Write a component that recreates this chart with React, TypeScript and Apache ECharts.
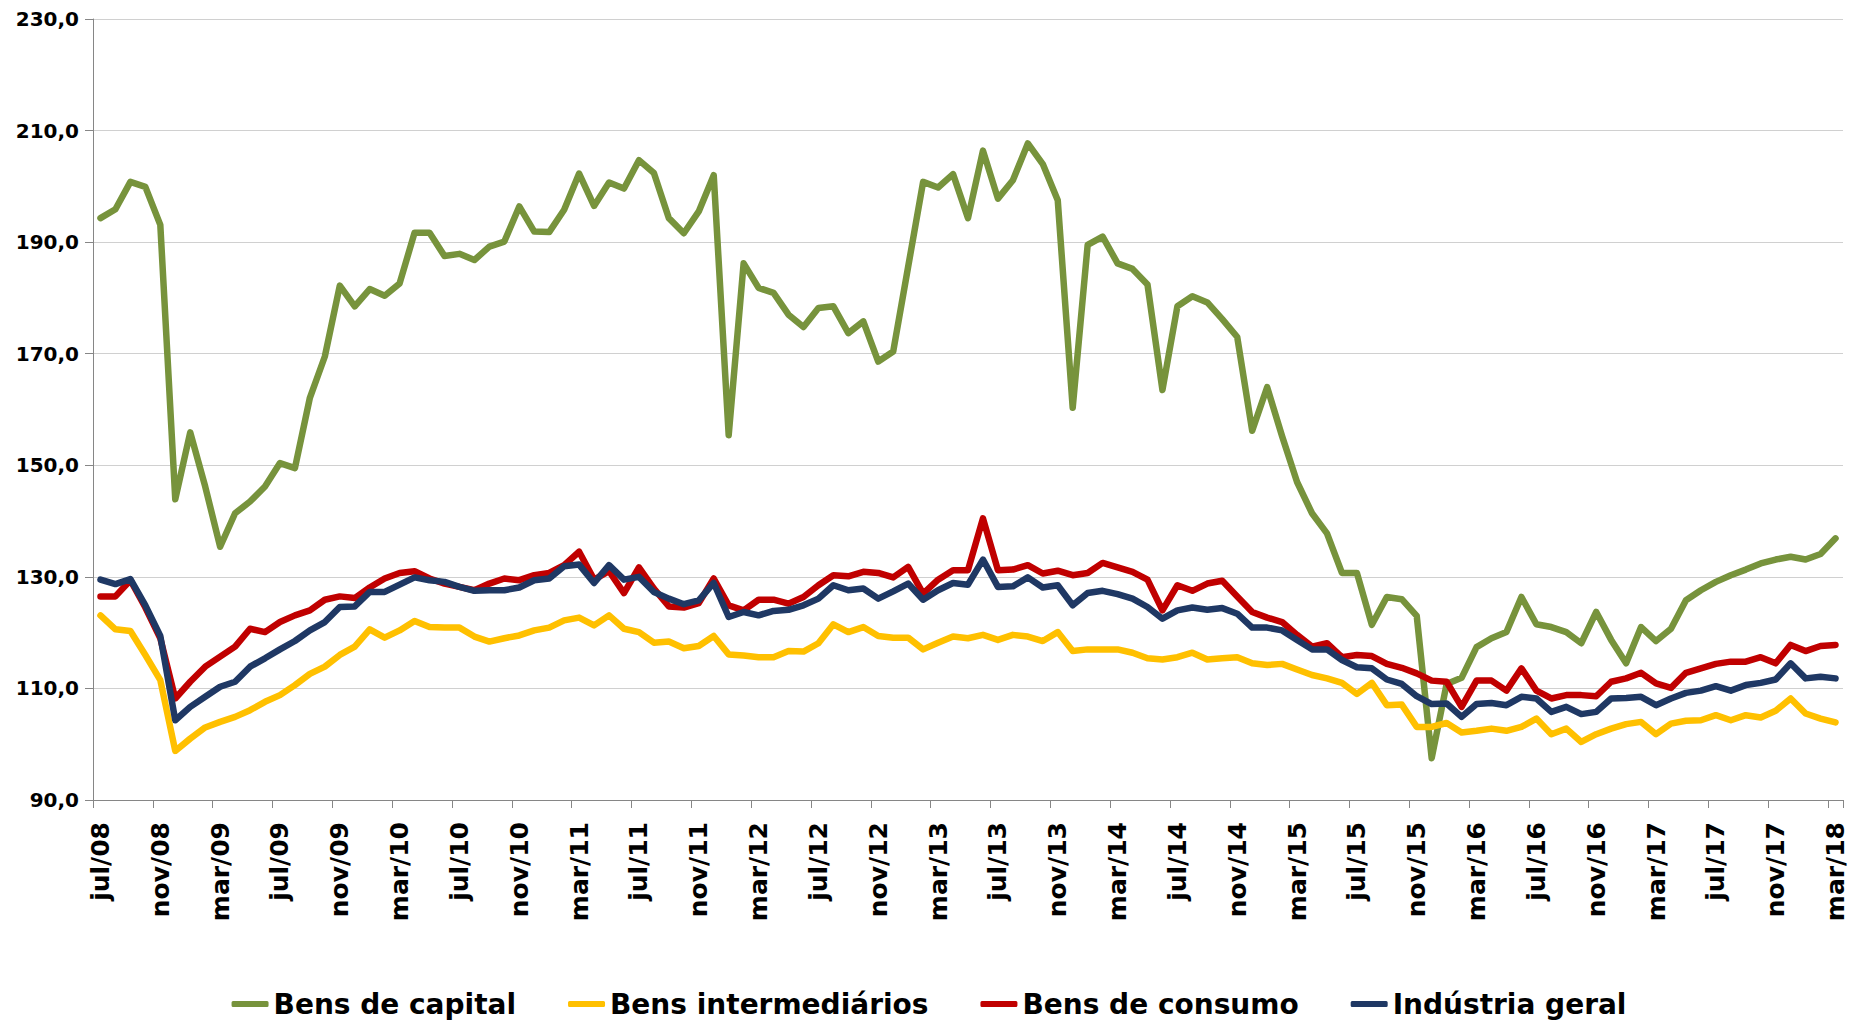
import React, { useEffect, useRef } from "react";
import * as echarts from "echarts";

const MONTHS = ["jan", "fev", "mar", "abr", "mai", "jun", "jul", "ago", "set", "out", "nov", "dez"];
const START_YEAR = 2008;
const START_MONTH = 6; // jul
const N_POINTS = 117; // jul/08 .. mar/18
const categories: string[] = Array.from({ length: N_POINTS }, (_, i) => {
  const m = START_MONTH + i;
  const y = START_YEAR + Math.floor(m / 12);
  return `${MONTHS[m % 12]}/${String(y % 100).padStart(2, "0")}`;
});

const seriesNames = ["Bens de capital", "Bens intermediários", "Bens de consumo", "Indústria geral"];

const bensCapital = [
  194.3, 195.9, 200.8, 199.9, 193.1, 143.9, 155.9, 146.2, 135.4, 141.4,
  143.5, 146.2, 150.4, 149.5, 162.1, 169.5, 182.2, 178.5, 181.6, 180.4,
  182.6, 191.7, 191.7, 187.5, 187.9, 186.8, 189.2, 190.1, 196.4, 191.9,
  191.8, 195.8, 202.3, 196.5, 200.7, 199.6, 204.7, 202.4, 194.3, 191.6,
  195.5, 202.0, 155.4, 186.2, 181.8, 180.9, 177.0, 174.8, 178.2, 178.5,
  173.7, 175.8, 168.6, 170.4, 185.6, 200.8, 199.8, 202.2, 194.3, 206.4,
  197.8, 201.1, 207.7, 204.0, 197.5, 160.3, 189.5, 191.0, 186.2, 185.2,
  182.4, 163.5, 178.5, 180.3, 179.2, 176.2, 173.0, 156.2, 164.0, 155.2,
  147.0, 141.4, 137.8, 130.7, 130.7, 121.4, 126.4, 126.0, 123.0, 97.5,
  110.8, 111.9, 117.4, 119.0, 120.1, 126.4, 121.5, 121.0, 120.1, 118.1,
  123.7, 118.7, 114.5, 121.0, 118.5, 120.7, 125.8, 127.6, 129.1, 130.3,
  131.3, 132.4, 133.1, 133.6, 133.1, 134.1, 136.9,
];

const bensIntermediarios = [
  123.1, 120.6, 120.3, 116.0, 111.5, 98.8, 101.0, 103.0, 104.0, 104.9,
  106.1, 107.6, 108.8, 110.6, 112.6, 113.9, 116.0, 117.5, 120.6, 119.1,
  120.4, 122.1, 121.0, 120.9, 120.9, 119.3, 118.4, 119.0, 119.5, 120.4,
  120.9, 122.2, 122.7, 121.3, 123.1, 120.7, 120.1, 118.2, 118.4, 117.2,
  117.6, 119.4, 116.1, 115.9, 115.6, 115.6, 116.7, 116.6, 118.1, 121.5,
  120.1, 121.0, 119.4, 119.1, 119.1, 117.0, 118.2, 119.3, 119.0, 119.6,
  118.7, 119.6, 119.3, 118.5, 120.1, 116.7, 117.0, 117.0, 117.0, 116.4,
  115.4, 115.2, 115.6, 116.4, 115.2, 115.4, 115.6, 114.5, 114.2, 114.4,
  113.4, 112.4, 111.8, 111.0, 109.0, 111.0, 107.0, 107.1, 103.1, 103.1,
  103.8, 102.1, 102.4, 102.8, 102.4, 103.1, 104.6, 101.8, 102.8, 100.4,
  101.8, 102.8, 103.6, 104.0, 101.8, 103.7, 104.2, 104.3, 105.2, 104.3,
  105.2, 104.8, 106.0, 108.2, 105.5, 104.6, 103.9,
];

const bensConsumo = [
  126.5, 126.5, 129.4, 124.5, 119.0, 108.2, 111.2, 113.9, 115.7, 117.5,
  120.7, 120.1, 121.9, 123.1, 124.0, 125.9, 126.5, 126.2, 128.1, 129.7,
  130.7, 131.0, 129.7, 128.8, 128.2, 127.6, 128.8, 129.7, 129.4, 130.3,
  130.7, 132.1, 134.5, 129.5, 131.0, 127.1, 131.7, 127.9, 124.7, 124.5,
  125.3, 129.7, 124.9, 124.0, 125.9, 125.9, 125.2, 126.4, 128.5, 130.3,
  130.1, 130.9, 130.7, 129.9, 131.8, 127.0, 129.5, 131.2, 131.2, 140.5,
  131.2, 131.3, 132.1, 130.6, 131.1, 130.3, 130.7, 132.5, 131.7, 130.9,
  129.5, 124.0, 128.5, 127.5, 128.8, 129.3, 126.5, 123.7, 122.7, 121.9,
  119.6, 117.5, 118.1, 115.6, 116.0, 115.8, 114.4, 113.7, 112.7, 111.4,
  111.2, 106.7, 111.4, 111.4, 109.6, 113.6, 109.6, 108.2, 108.8, 108.8,
  108.6, 111.2, 111.8, 112.8, 110.9, 110.1, 112.8, 113.6, 114.4, 114.8,
  114.8, 115.6, 114.5, 117.8, 116.7, 117.6, 117.8,
];

const industriaGeral = [
  129.5, 128.7, 129.6, 124.9, 119.4, 104.3, 106.7, 108.5, 110.3, 111.2,
  113.9, 115.4, 117.0, 118.5, 120.4, 121.9, 124.6, 124.7, 127.3, 127.3,
  128.6, 129.9, 129.4, 129.1, 128.2, 127.5, 127.6, 127.6, 128.1, 129.4,
  129.7, 131.9, 132.2, 128.9, 132.1, 129.5, 130.0, 127.3, 126.1, 125.1,
  125.8, 128.9, 122.8, 123.7, 123.1, 123.9, 124.1, 124.9, 126.1, 128.5,
  127.6, 127.9, 126.1, 127.4, 128.8, 125.9, 127.6, 128.9, 128.6, 133.1,
  128.2, 128.3, 129.9, 128.1, 128.5, 124.9, 127.1, 127.5, 126.9, 126.1,
  124.6, 122.5, 124.0, 124.5, 124.1, 124.4, 123.4, 120.9, 120.9, 120.4,
  118.7, 117.0, 117.0, 115.1, 113.8, 113.6, 111.6, 110.8, 108.6, 107.2,
  107.3, 104.9, 107.2, 107.4, 107.0, 108.5, 108.2, 105.8, 106.7, 105.4,
  105.8, 108.2, 108.3, 108.5, 107.0, 108.2, 109.2, 109.6, 110.4, 109.6,
  110.6, 111.0, 111.6, 114.5, 111.8, 112.1, 111.8,
];

const seriesData = [bensCapital, bensIntermediarios, bensConsumo, industriaGeral];
const seriesColors = ["#77933C", "#FFC000", "#C00000", "#1F3864"];

const Y_MIN = 90;
const Y_MAX = 230;
const Y_STEP = 20;

const FONT = "DejaVu Sans";

export default function App() {
  const ref = useRef<HTMLDivElement>(null);

  useEffect(() => {
    if (!ref.current) return;
    const chart = echarts.init(ref.current, null, { renderer: "svg" });
    chart.setOption({
      animation: false,
      backgroundColor: "#ffffff",
      textStyle: { fontFamily: FONT },
      grid: { left: 93, right: 15, top: 19, bottom: 223, containLabel: false },
      legend: {
        data: seriesNames,
        bottom: 0,
        left: "center",
        icon: "roundRect",
        itemWidth: 37,
        itemHeight: 6,
        itemGap: 52,
        textStyle: { fontFamily: FONT, fontSize: 28, fontWeight: "bold", color: "#000" },
      },
      xAxis: {
        type: "category",
        data: categories,
        boundaryGap: true,
        axisLine: { show: true, lineStyle: { color: "#868686", width: 1 } },
        axisTick: { show: true, interval: 3, length: 8, alignWithLabel: false, lineStyle: { color: "#868686" } },
        axisLabel: {
          interval: 3,
          rotate: 90,
          margin: 22,
          fontFamily: FONT,
          fontSize: 25,
          fontWeight: "bold",
          color: "#000",
        },
        splitLine: { show: false },
      },
      yAxis: {
        type: "value",
        min: Y_MIN,
        max: Y_MAX,
        interval: Y_STEP,
        axisLine: { show: true, lineStyle: { color: "#868686", width: 1 } },
        axisTick: { show: true, length: 8, lineStyle: { color: "#868686" } },
        axisLabel: {
          margin: 14,
          fontFamily: FONT,
          fontSize: 20,
          fontWeight: "bold",
          color: "#000",
          formatter: (v: number) => v.toFixed(1).replace(".", ","),
        },
        splitLine: { show: true, lineStyle: { color: "#D0D0D0", width: 1 } },
      },
      series: seriesNames.map((name, k) => ({
        name,
        type: "line",
        data: seriesData[k],
        symbol: "none",
        smooth: false,
        color: seriesColors[k],
        lineStyle: { color: seriesColors[k], width: 6.5, join: "round", cap: "round" },
        itemStyle: { color: seriesColors[k] },
      })),
    });
    return () => chart.dispose();
  }, []);

  return (
    <div
      ref={ref}
      style={{ position: "fixed", left: 0, top: 0, width: 1858, height: 1023, background: "#fff" }}
    />
  );
}
